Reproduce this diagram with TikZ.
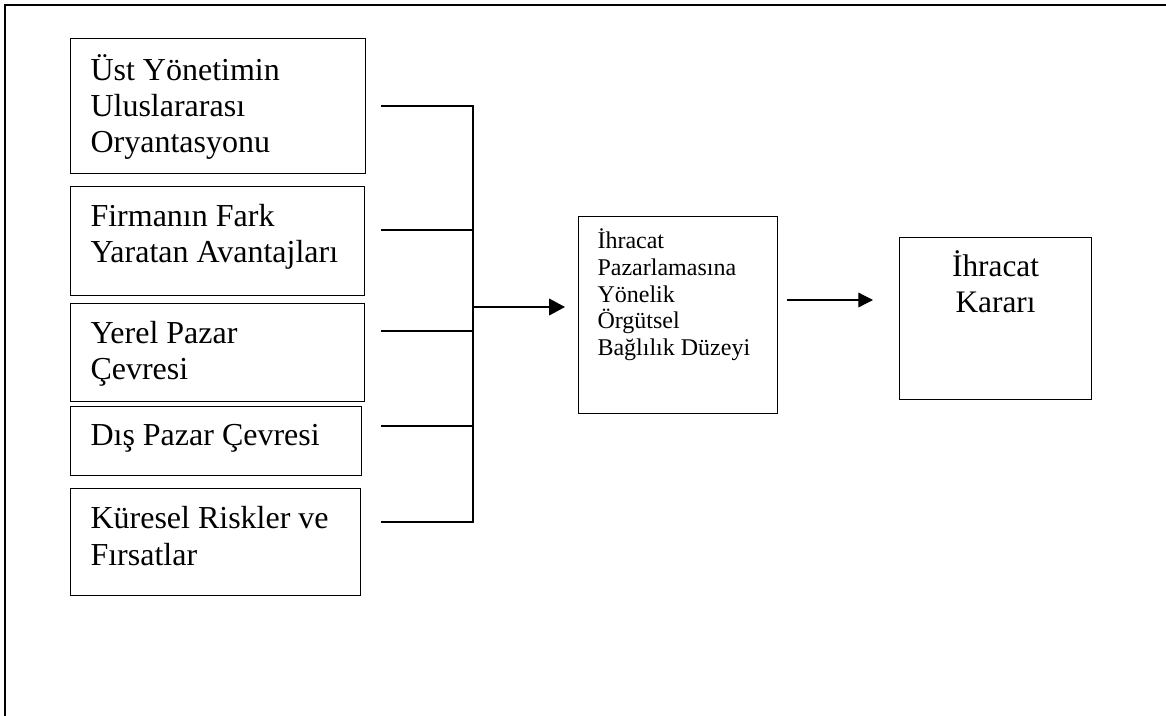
\documentclass[tikz,border=0pt]{standalone}
\usepackage{fontspec}
\setmainfont{Liberation Serif}
\usetikzlibrary{arrows.meta}
\newcommand{\boxtxt}[5]{\parbox[c][#2][t]{#1}{\raggedright\leftskip=#3\relax\rule{0pt}{#4}#5}}
\newcommand{\boxctr}[4]{\parbox[c][#2][t]{#1}{\centering\rule{0pt}{#3}#4}}
\tikzset{
  box/.style={draw, line width=0.8pt, inner sep=0pt, anchor=north west},
  bigfont/.style={font=\fontsize{24}{27}\selectfont},
  midfont/.style={font=\fontsize{18}{20.1}\selectfont},
  link/.style={line width=0.9pt},
  frameline/.style={line width=2.2pt},
  mainarrow/.style={line width=1.6pt, -{Triangle[length=12pt,width=12.5pt]}},
  thinarrow/.style={line width=0.9pt, -{Triangle[length=11pt,width=11pt]}}
}
\begin{document}
\begin{tikzpicture}[x=0.75pt,y=-0.75pt]
\useasboundingbox (0,0) rectangle (1166,715);
% outer frame (only top and left visible)
\draw[frameline] (5,716) -- (5,5) -- (1167,5);

% left boxes
\node[box,bigfont] (b1) at (70,38) {\boxtxt{221.25pt}{100.9pt}{15pt}{31.5pt}{Üst Yönetimin\\Uluslararası\\Oryantasyonu}};
\node[box,bigfont] (b2) at (70,186) {\boxtxt{220.5pt}{81.75pt}{15pt}{30pt}{Firmanın Fark\\Yaratan Avantajları}};
\node[box,bigfont] (b3) at (70,303) {\boxtxt{220.5pt}{73.5pt}{15pt}{30pt}{Yerel Pazar\\Çevresi}};
\node[box,bigfont] (b4) at (70,406) {\boxtxt{218.25pt}{51.75pt}{15pt}{29.25pt}{Dış Pazar Çevresi}};
\node[box,font=\fontsize{24}{28}\selectfont] (b5) at (70,488) {\boxtxt{217.5pt}{80.25pt}{15pt}{30pt}{Küresel Riskler ve\\Fırsatlar}};

% middle box
\node[box,midfont] (mid) at (578,216) {\boxtxt{149.25pt}{147.75pt}{14.25pt}{24pt}{İhracat\\Pazarlamasına\\Yönelik\\Örgütsel\\Bağlılık Düzeyi}};

% right box
\node[box,font=\fontsize{23.5}{27}\selectfont] (res) at (899,237) {\boxctr{144pt}{121.5pt}{29.25pt}{İhracat\\Kararı}};

% connector points
\coordinate (s1) at (381,106);
\coordinate (s2) at (381,230);
\coordinate (s3) at (381,331);
\coordinate (s4) at (381,426);
\coordinate (s5) at (381,522);
\coordinate (j1) at (473,106);
\coordinate (j5) at (473,522);
\coordinate (bus) at (473,307);
\coordinate (a1end) at (565,307);
\coordinate (a2s) at (787,300);
\coordinate (a2e) at (873,300);

\draw[link] (s1) -- (j1) -- (j5) -- (s5);
\draw[link] (s2) -- (s2 -| j1);
\draw[link] (s3) -- (s3 -| j1);
\draw[link] (s4) -- (s4 -| j1);
\draw[mainarrow] (bus) -- (a1end);
\draw[thinarrow] (a2s) -- (a2e);
\end{tikzpicture}
\end{document}
